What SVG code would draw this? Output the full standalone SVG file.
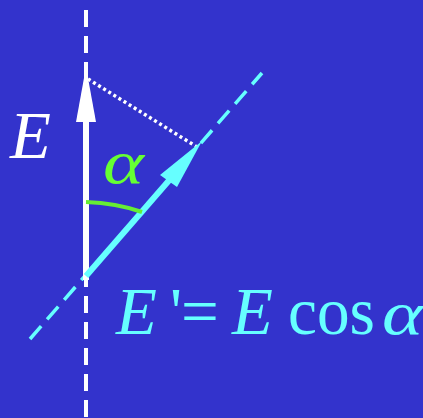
<svg xmlns="http://www.w3.org/2000/svg" width="423" height="418" viewBox="0 0 423 418">
<style>
.it{font-family:"Liberation Serif","Times New Roman",serif;font-style:italic}
.rm{font-family:"Liberation Serif","Times New Roman",serif}
</style>
<rect width="423" height="418" fill="#3333CC"/>
<g id="connectors">
<line x1="86" y1="10" x2="86" y2="418" stroke="#FFFFFF" stroke-width="4" stroke-dasharray="17 9"/>
<line x1="30" y1="339" x2="262" y2="73" stroke="#66FFFF" stroke-width="3.5" stroke-dasharray="17 9"/>
<line x1="88" y1="79" x2="197" y2="147" stroke="#FFFFFF" stroke-width="3.5" stroke-dasharray="3 3"/>
</g>
<g id="vecE">
<rect x="83" y="115" width="6" height="165" fill="#FFFFFF"/>
<polygon points="86,67 76,122 96,122" fill="#FFFFFF"/>
</g>
<g id="vecEprime">
<line x1="86" y1="276" x2="172" y2="177" stroke="#66FFFF" stroke-width="6"/>
<polygon points="202,141 160,175 177,187" fill="#66FFFF"/>
</g>
<g id="angle">
<path d="M86,202 Q116,203 142,212" fill="none" stroke="#66EE33" stroke-width="4"/>
<text class="it" x="103" y="183" font-size="62" fill="#66FF33" textLength="41" lengthAdjust="spacingAndGlyphs">α</text>
</g>
<text class="it" x="10" y="158" font-size="67" fill="#FFFFFF">E</text>
<g id="formula" fill="#66FFFF" font-size="67">
<text class="it" x="116" y="334">E</text>
<text class="rm" x="170" y="334">'<tspan x="181">=</tspan></text>
<text class="it" x="232" y="334">E</text>
<text class="rm" x="288" y="334" textLength="87" lengthAdjust="spacingAndGlyphs">cos</text>
<text class="it" x="382" y="334" font-size="62" textLength="41" lengthAdjust="spacingAndGlyphs">α</text>
</g>
</svg>
